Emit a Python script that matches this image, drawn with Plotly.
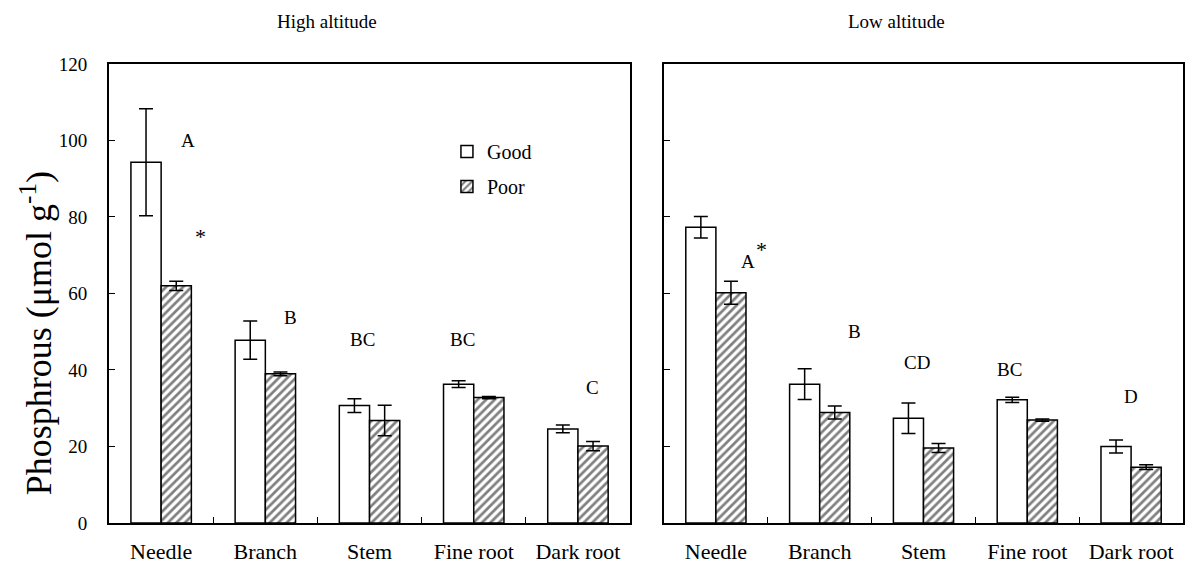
import plotly.graph_objects as go

categories = ["Needle", "Branch", "Stem", "Fine root", "Dark root"]

high_good = [94.3, 47.8, 30.7, 36.3, 24.6]
high_good_err = [14.0, 5.0, 1.8, 0.9, 1.0]
high_poor = [62.0, 39.0, 26.8, 32.8, 20.1]
high_poor_err = [1.2, 0.5, 4.0, 0.3, 1.2]

low_good = [77.3, 36.3, 27.4, 32.2, 20.0]
low_good_err = [2.8, 4.0, 4.0, 0.7, 1.7]
low_poor = [60.2, 28.9, 19.6, 26.9, 14.6]
low_poor_err = [3.0, 1.7, 1.2, 0.3, 0.6]

# significance letters
high_letters_x = [0.26, 1.24, 1.93, 2.89, 4.14]
high_letters_y = [100, 53.6, 48, 48, 35.3]
high_letters = ["A", "B", "BC", "BC", "C"]
low_letters_x = [0.31, 1.34, 1.94, 2.83, 4.0]
low_letters_y = [68.4, 50, 42, 40, 33]
low_letters = ["A", "B", "CD", "BC", "D"]
star_high = (0.38, 75)
star_low = (0.44, 71.5)

FONT = "Liberation Serif"

fig = go.Figure()

def add_pair(good, gerr, poor, perr, xa, ya, show):
    fig.add_trace(go.Bar(
        x=categories, y=good, name="Good", xaxis=xa, yaxis=ya,
        marker=dict(color="white", line=dict(color="black", width=1.5)),
        error_y=dict(type="data", array=gerr, color="black", thickness=1.5, width=7),
        showlegend=show, legendgroup="g",
    ))
    fig.add_trace(go.Bar(
        x=categories, y=poor, name="Poor", xaxis=xa, yaxis=ya,
        marker=dict(color="white", line=dict(color="black", width=1.5),
                    pattern=dict(shape="/", fgcolor="black", bgcolor="white",
                                 size=6, solidity=0.45)),
        error_y=dict(type="data", array=perr, color="black", thickness=1.5, width=7),
        showlegend=show, legendgroup="p",
    ))

add_pair(high_good, high_good_err, high_poor, high_poor_err, "x", "y", True)
add_pair(low_good, low_good_err, low_poor, low_poor_err, "x2", "y2", False)

xcommon = dict(
    type="category", showline=True, linecolor="black", linewidth=2, mirror=True,
    ticks="inside", tickson="boundaries", ticklen=6, tickwidth=1, tickcolor="black",
    tickfont=dict(family=FONT, size=22, color="black"), showgrid=False,
    range=[-0.5, 4.5], automargin=False, ticklabelstandoff=8,
)
ycommon = dict(
    range=[0, 120], dtick=20, showline=True, linecolor="black", linewidth=2, mirror=True,
    ticks="inside", ticklen=6, tickwidth=1, tickcolor="black", showgrid=False, zeroline=False,
    tickfont=dict(family=FONT, size=19, color="black"), automargin=False,
)

fig.update_layout(
    width=1179, height=555,
    margin=dict(l=0, r=0, t=0, b=0),
    paper_bgcolor="white", plot_bgcolor="white",
    barmode="group", bargap=0.42, bargroupgap=0,
    xaxis=dict(domain=[0.0857, 0.5276], anchor="y", **xcommon),
    xaxis2=dict(domain=[0.5564, 0.9966], anchor="y2", **xcommon),
    yaxis=dict(domain=[0.0721, 0.8991], anchor="x", ticklabelstandoff=16, **ycommon),
    yaxis2=dict(domain=[0.0721, 0.8991], anchor="x2", showticklabels=False, **ycommon),
    legend=dict(x=0.3723, y=0.7766, xanchor="left", yanchor="top",
                font=dict(family=FONT, size=20, color="black"),
                bgcolor="rgba(0,0,0,0)", tracegroupgap=6, traceorder="grouped",
                itemwidth=30),
    showlegend=True,
    font=dict(family=FONT, color="black"),
)

def ann(x, y, t, xr, yr, size, **kw):
    return dict(x=x, y=y, xref=xr, yref=yr, text=t, showarrow=False,
                xanchor="center", yanchor="middle",
                font=dict(family=FONT, size=size, color="black"), **kw)

annotations = []
for x, y, t in zip(high_letters_x, high_letters_y, high_letters):
    annotations.append(ann(x, y, t, "x", "y", 19))
for x, y, t in zip(low_letters_x, low_letters_y, low_letters):
    annotations.append(ann(x, y, t, "x2", "y2", 19))
annotations.append(ann(star_high[0], star_high[1], "*", "x", "y", 22))
annotations.append(ann(star_low[0], star_low[1], "*", "x2", "y2", 22))
annotations.append(ann(0.2706, 0.9748, "High altitude", "paper", "paper", 19))
annotations.append(ann(0.754, 0.9748, "Low altitude", "paper", "paper", 19))
annotations.append(ann(0.024, 0.4144, "Phosphrous (μmol g<sup>-1</sup>)", "paper", "paper", 36,
                       textangle=-90))
fig.update_layout(annotations=annotations)

fig.write_html("out.html")
